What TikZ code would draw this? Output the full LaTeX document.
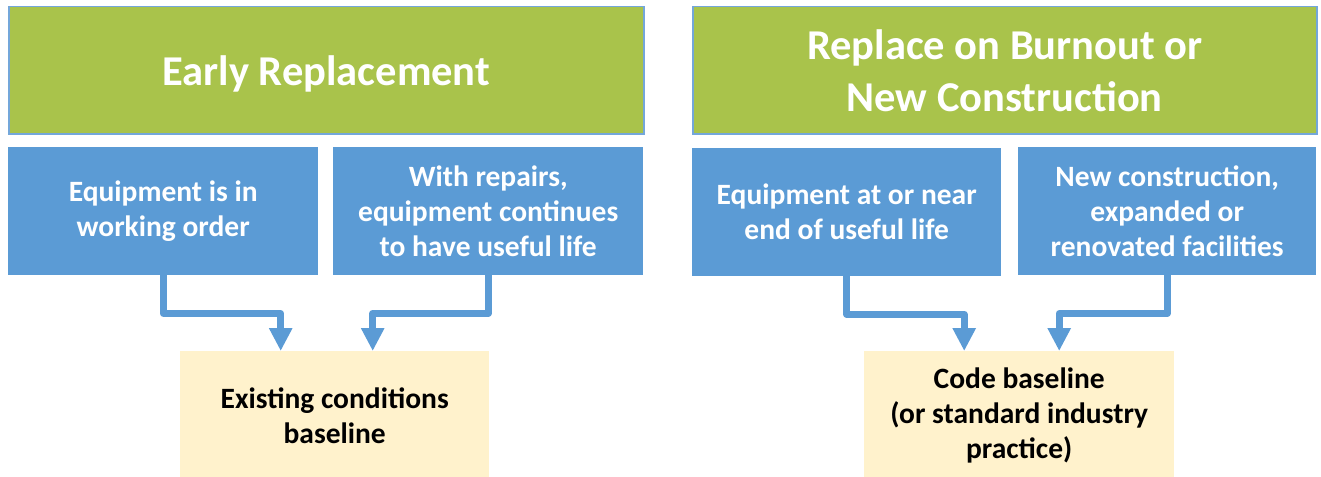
\documentclass[tikz,border=0pt]{standalone}
\usepackage{fontspec}
\setmainfont{Carlito}
\usetikzlibrary{arrows.meta}
\definecolor{leafgreen}{HTML}{A9C34B}
\definecolor{boxblue}{HTML}{5B9BD5}
\definecolor{paleyellow}{HTML}{FFF2CC}
\definecolor{edgeblue}{HTML}{74A7DA}

\begin{document}
\begin{tikzpicture}[x=1pt, y=-1pt,
  box/.style={anchor=north west, align=center, inner sep=0pt, font=\fontsize{29.5}{35}\selectfont\bfseries},
  titlebox/.style={box, fill=leafgreen, draw=edgeblue, line width=1.5pt, text=white, minimum height=127pt, font=\fontsize{42.5}{52}\selectfont\bfseries},
  casebox/.style={box, fill=boxblue, text=white, minimum height=128pt},
  basebox/.style={box, fill=paleyellow, text=black, minimum height=129pt},
  conn/.style={draw=boxblue, line width=7pt, line join=round, -{Triangle[width=22pt,length=23pt]}}]
\useasboundingbox (0,0) rectangle (1321,476);
% headers
\node[titlebox, minimum width=635pt] (early) at (8,6) {};
\node[text=white, font=\fontsize{42.5}{52}\selectfont\bfseries] (earlytxt) at ([yshift=-4pt]early.center) {Early Replacement};
\node[titlebox, minimum width=624pt] (burn) at (692,6) {Replace on Burnout or\\New Construction};
% situations
\node[casebox, minimum width=310pt] (er1) at (8,147) {Equipment is in\\working order};
\node[casebox, minimum width=310pt] (er2) at (333,147) {With repairs,\\equipment continues\\to have useful life};
\node[casebox, minimum width=309pt] (rb1) at (692,148) {Equipment at or near\\end of useful life};
\node[casebox, minimum width=298pt] (rb2) at (1018,147) {New construction,\\expanded or\\renovated facilities};
% baselines
\node[basebox, minimum width=309pt] (exist) at (180,351) {Existing conditions\\baseline};
\node[basebox, minimum width=310pt] (code) at (864,351) {Code baseline\\(or standard industry\\practice)};
\foreach \a/\b/\s in {er1/exist/-54, er2/exist/38, rb1/code/-55, rb2/code/40}
    \draw[conn] (\a.south) -- ++(0,38) -| ([xshift=\s pt]\b.north);
\end{tikzpicture}
\end{document}
